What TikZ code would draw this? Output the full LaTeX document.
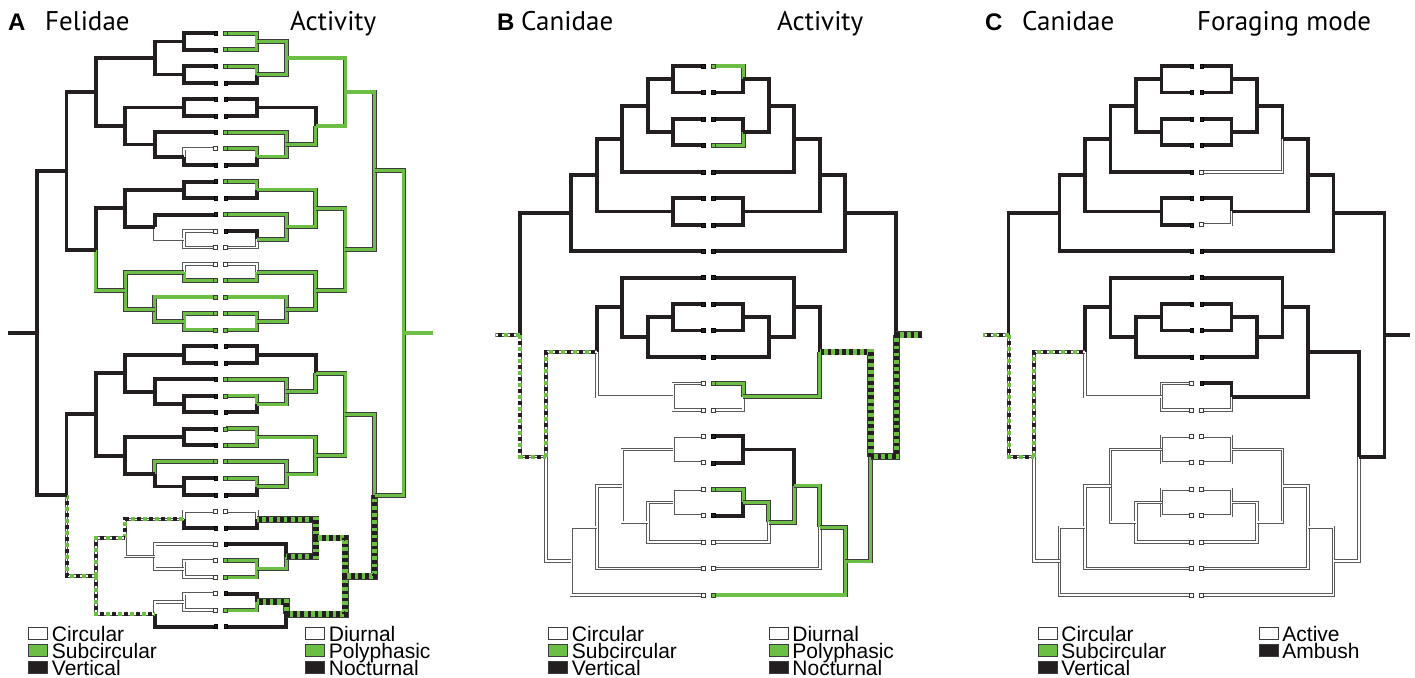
\documentclass[tikz,border=0pt]{standalone}
\usepackage{fontspec}
\setmainfont{Liberation Sans}
\newfontfamily\ttlfont{PT Sans}
\usetikzlibrary{positioning}

\definecolor{grn}{RGB}{108,190,69}
\definecolor{blk}{RGB}{35,31,32}
\definecolor{edge}{RGB}{60,60,60}

\tikzset{
  kbr/.style={draw=blk,line width=3.9pt},
  gbr/.style={draw=edge,double=grn,double distance=3.1pt,line width=0.8pt},
  wbr/.style={draw=black!65,double=white,double distance=1.8pt,line width=0.8pt},
  lda/.style={draw=grn,line width=4pt,dash pattern=on 4pt off 8pt},
  ldb/.style={draw=blk,line width=4pt,dash pattern=on 4pt off 8pt,dash phase=6pt},
  rba/.style={draw=edge,double=grn,double distance=5.6pt,line width=0.6pt},
  rbb/.style={draw=blk,line width=5.6pt,dash pattern=on 3.6pt off 3.6pt},
  tipK/.style={fill=blk},
  tipG/.style={fill=grn,draw=edge,line width=0.6pt},
  tipW/.style={fill=white,draw=edge,line width=0.6pt},
  ttl/.style={font=\ttlfont\fontsize{27}{30}\selectfont,anchor=base west,inner sep=0pt},
  lett/.style={font=\bfseries\fontsize{24}{26}\selectfont,anchor=base west,inner sep=0pt},
  lgbox/.style={draw=edge,line width=0.7pt,minimum width=19pt,minimum height=12pt,inner sep=0pt,anchor=west},
  lgtxt/.style={font=\fontsize{21}{22}\selectfont,inner sep=0pt,anchor=west,text height=15pt,text depth=0pt},
}

% branch kinds: K black, G green, W white, L/R ambiguous (left/right tree)
\newcommand\brK[2]{\draw[kbr] (#1) |- (#2);}
\newcommand\brG[2]{\draw[gbr] (#1) |- (#2);}
\newcommand\brW[2]{\draw[wbr] (#1) |- (#2);}
\newcommand\brL[2]{\draw[wbr] (#1) |- (#2); \draw[lda] (#1) |- (#2); \draw[ldb] (#1) |- (#2);}
\newcommand\brR[2]{\draw[rba] (#1) |- (#2); \draw[rbb] (#1) |- (#2);}
\newcommand\tbr[3]{\csname br#1\endcsname{\pf#2\sd}{\pf#3\sd}}
\newcommand\tleaf[3]{\tbr{#1}{#2}{#3}\draw[tip#1] (\pf#3\sd) ++(-1.8,-2) rectangle ++(3.6,4);}
% tree node: name, level, leaf index -> left and right copies
\newcommand\tnode[3]{\pgfmathsetmacro\dd{\dl[#2]}\pgfmathsetmacro\yy{\yo+\ys*(#3)}%
  \coordinate (\pf#1l) at (\cx-\dd,\yy); \coordinate (\pf#1r) at (\cx+\dd,\yy);}

\begin{document}
\begin{tikzpicture}[x=1pt,y=-1pt]
\useasboundingbox (0,0) rectangle (1415,677);

% ---- A: Felidae
\def\pf{F}\def\cx{220.5}\def\yo{33.3}\def\ys{16.48}
\def\dl{{5,36.4,65.8,95.2,124.6,154,183.4,212.8}}
\foreach \i in {0,...,36} {\tnode{\i}{0}{\i}}
\foreach \n/\k/\y in {a1/1/0.5, a2/1/2.5, a3/2/1.5, a4/1/4.5, a5/1/7.5, a6/2/6.75, a7/3/5.625,
  a8/4/3.5625, a9/1/9.5, a10/1/12.5, a11/2/11.75, a12/3/10.625, a13/1/14.5, a14/1/17.5,
  a15/2/16.75, a16/3/15.625, a17/4/13.125, a18/5/8.34375, b1/1/19.5, b2/1/22.5, b3/2/21.75,
  b4/3/20.625, b5/1/24.5, b6/1/27.5, b7/2/26.75, b8/3/25.625, b9/4/23.125, b10/1/29.5,
  b11/1/32.5, b12/2/31.75, b13/3/30.625, b14/1/34.5, b15/2/35.25, b16/4/32.9375,
  b17/5/28.03125, rt/6/18.1875, end/7/18.1875} {\tnode\n\k\y}

% pupil shape
\def\sd{l}
\foreach \t/\p/\c in {K/a1/0, K/a1/1, K/a2/2, K/a2/3, K/a4/4, K/a4/5, K/a6/6, W/a5/7, K/a5/8,
  K/a9/9, K/a9/10, K/a11/11, W/a10/12, W/a10/13, W/a13/14, G/a13/15, G/a15/16, G/a14/17,
  G/a14/18, K/b1/19, K/b1/20, K/b3/21, K/b2/22, K/b2/23, K/b5/24, K/b5/25, G/b7/26, K/b6/27,
  K/b6/28, W/b10/29, K/b10/30, W/b12/31, W/b11/32, W/b11/33, W/b14/34, W/b14/35, K/b15/36}
  {\tleaf\t\p\c}
\foreach \t/\p/\c in {K/a3/a1, K/a3/a2, K/a8/a3, K/a7/a4, K/a6/a5, K/a7/a6, K/a8/a7, K/a18/a8,
  K/a12/a9, W/a11/a10, K/a12/a11, K/a17/a12, G/a16/a13, G/a15/a14, G/a16/a15, G/a17/a16,
  K/a18/a17, K/rt/a18, K/b4/b1, K/b3/b2, K/b4/b3, K/b9/b4, K/b8/b5, K/b7/b6, K/b8/b7,
  K/b9/b8, K/b17/b9, L/b13/b10, W/b12/b11, W/b13/b12, L/b16/b13, W/b15/b14, L/b16/b15,
  L/b17/b16, K/rt/b17, K/rt/end} {\tbr\t\p\c}

% activity
\def\sd{r}
\foreach \t/\p/\c in {G/a1/0, G/a1/1, G/a2/2, K/a2/3, K/a4/4, K/a4/5, G/a6/6, G/a5/7, K/a5/8,
  G/a9/9, K/a9/10, G/a11/11, K/a10/12, W/a10/13, W/a13/14, G/a13/15, G/a15/16, G/a14/17,
  G/a14/18, K/b1/19, K/b1/20, G/b3/21, G/b2/22, K/b2/23, G/b5/24, G/b5/25, G/b7/26, G/b6/27,
  K/b6/28, W/b10/29, K/b10/30, K/b12/31, G/b11/32, G/b11/33, K/b14/34, G/b14/35, K/b15/36}
  {\tleaf\t\p\c}
\foreach \t/\p/\c in {G/a3/a1, G/a3/a2, G/a8/a3, K/a7/a4, G/a6/a5, G/a7/a6, G/a8/a7, G/a18/a8,
  G/a12/a9, G/a11/a10, G/a12/a11, G/a17/a12, G/a16/a13, G/a15/a14, G/a16/a15, G/a17/a16,
  G/a18/a17, G/rt/a18, K/b4/b1, G/b3/b2, G/b4/b3, G/b9/b4, G/b8/b5, G/b7/b6, G/b8/b7,
  G/b9/b8, G/b17/b9, R/b13/b10, G/b12/b11, R/b13/b12, R/b16/b13, R/b15/b14, R/b16/b15,
  R/b17/b16, G/rt/b17, G/rt/end} {\tbr\t\p\c}

% ---- B, C: Canidae
\def\yo{66}\def\ys{26.45}
\def\dl{{5,35,60.5,86,111.5,137,162.5,188,213.5}}
\foreach \pf/\cx in {B/708.3, C/1196.5} {
  \foreach \i in {0,...,20} {\tnode{\i}{0}{\i}}
  \foreach \n/\k/\y in {n1/1/0.5, n2/1/2.5, n3/2/1.5, n4/3/2.75, n5/1/5.5, n6/4/4.125,
    n7/5/5.5625, n8/1/9.5, n9/2/10.25, n10/3/9.125, n11/1/12.5, n12/4/10.8125, n13/1/14.5,
    n14/1/16.5, n15/2/17.25, n16/3/15.875, n17/4/17.4375, n18/5/18.71875, n19/6/14.765625,
    rt/7/10.1640625, end/8/10.1640625} {\tnode\n\k\y}
  % pupil shape
  \def\sd{l}
  \foreach \t/\p/\c in {K/n1/0, K/n1/1, K/n2/2, K/n2/3, K/n4/4, K/n5/5, K/n5/6, K/n7/7,
    K/n10/8, K/n8/9, K/n8/10, K/n9/11, W/n11/12, W/n11/13, W/n13/14, W/n13/15, W/n14/16,
    W/n14/17, W/n15/18, W/n17/19, W/n18/20} {\tleaf\t\p\c}
  \foreach \t/\p/\c in {K/n3/n1, K/n3/n2, K/n4/n3, K/n6/n4, K/n6/n5, K/n7/n6, K/rt/n7,
    K/n9/n8, K/n10/n9, K/n12/n10, W/n12/n11, L/n19/n12, W/n16/n13, W/n15/n14, W/n16/n15,
    W/n17/n16, W/n18/n17, W/n19/n18, L/rt/n19, L/rt/end} {\tbr\t\p\c}
}

% activity
\def\pf{B}\def\sd{r}
\foreach \t/\p/\c in {G/n1/0, K/n1/1, K/n2/2, G/n2/3, K/n4/4, K/n5/5, K/n5/6, K/n7/7,
  K/n10/8, K/n8/9, K/n8/10, K/n9/11, G/n11/12, W/n11/13, K/n13/14, K/n13/15, G/n14/16,
  K/n14/17, W/n15/18, W/n17/19, G/n18/20} {\tleaf\t\p\c}
\foreach \t/\p/\c in {K/n3/n1, K/n3/n2, K/n4/n3, K/n6/n4, K/n6/n5, K/n7/n6, K/rt/n7,
  K/n9/n8, K/n10/n9, K/n12/n10, G/n12/n11, R/n19/n12, K/n16/n13, G/n15/n14, G/n16/n15,
  G/n17/n16, G/n18/n17, G/n19/n18, R/rt/n19, R/rt/end} {\tbr\t\p\c}

% foraging mode
\def\pf{C}
\foreach \t/\p/\c in {K/n1/0, K/n1/1, K/n2/2, K/n2/3, W/n4/4, K/n5/5, W/n5/6, K/n7/7,
  K/n10/8, K/n8/9, K/n8/10, K/n9/11, K/n11/12, W/n11/13, W/n13/14, W/n13/15, W/n14/16,
  W/n14/17, W/n15/18, W/n17/19, W/n18/20} {\tleaf\t\p\c}
\foreach \t/\p/\c in {K/n3/n1, K/n3/n2, K/n4/n3, K/n6/n4, K/n6/n5, K/n7/n6, K/rt/n7,
  K/n9/n8, K/n10/n9, K/n12/n10, K/n12/n11, K/n19/n12, W/n16/n13, W/n15/n14, W/n16/n15,
  W/n17/n16, W/n18/n17, W/n19/n18, K/rt/n19, K/rt/end} {\tbr\t\p\c}

% ---- titles
\node[lett] (tA) at (8,31) {A};
\node[ttl] (tA1) at (45,31) {Felidae};
\node[ttl] (tA2) at (290,31) {Activity};
\node[lett] (tB) at (497,31) {B};
\node[ttl] (tB1) at (521,31) {Canidae};
\node[ttl] (tB2) at (777,31) {Activity};
\node[lett] (tC) at (985,31) {C};
\node[ttl] (tC1) at (1022,31) {Canidae};
\node[ttl] (tC2) at (1197,31) {Foraging mode};

% ---- legends
\foreach \lx/\nm in {28/aP, 548/bP, 1037.5/cP} {
  \node[lgbox,fill=white] (\nm1) at (\lx,633.5) {};
  \node[lgbox,fill=grn] (\nm2) at (\lx,650.5) {};
  \node[lgbox,fill=blk] (\nm3) at (\lx,667.5) {};
  \node[lgtxt,right=4pt of \nm1] (\nm t1) {Circular};
  \node[lgtxt,right=4pt of \nm2] (\nm t2) {Subcircular};
  \node[lgtxt,right=4pt of \nm3] (\nm t3) {Vertical};
}
\foreach \lx/\nm in {305/aA, 768.5/bA} {
  \node[lgbox,fill=white] (\nm1) at (\lx,633.5) {};
  \node[lgbox,fill=grn] (\nm2) at (\lx,650.5) {};
  \node[lgbox,fill=blk] (\nm3) at (\lx,667.5) {};
  \node[lgtxt,right=4pt of \nm1] (\nm t1) {Diurnal};
  \node[lgtxt,right=4pt of \nm2] (\nm t2) {Polyphasic};
  \node[lgtxt,right=4pt of \nm3] (\nm t3) {Nocturnal};
}
\node[lgbox,fill=white] (cF1) at (1258.5,633.5) {};
\node[lgbox,fill=blk] (cF2) at (1258.5,650.5) {};
\node[lgtxt,right=4pt of cF1] (cFt1) {Active};
\node[lgtxt,right=4pt of cF2] (cFt2) {Ambush};
\end{tikzpicture}
\end{document}
